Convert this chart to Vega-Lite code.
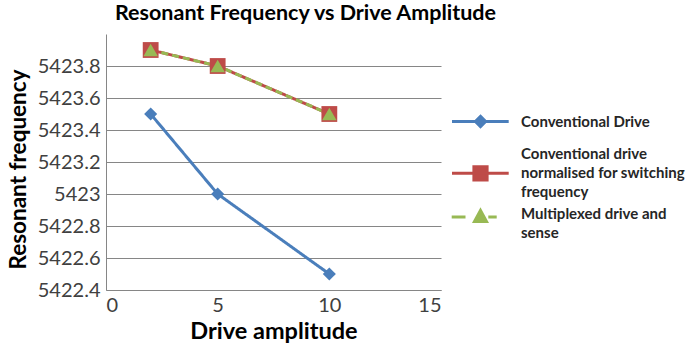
{
  "$schema": "https://vega.github.io/schema/vega-lite/v6.json",
  "autosize": "none",
  "width": 335,
  "height": 256,
  "padding": {"left": 106, "top": 34, "right": 245, "bottom": 58},
  "background": "white",
  "title": {
    "text": "Resonant Frequency vs Drive Amplitude",
    "font": "Lato",
    "fontSize": 21.5,
    "fontWeight": "bold",
    "color": "#000000",
    "anchor": "middle",
    "dx": 32,
    "offset": 10
  },
  "config": {
    "view": {"stroke": null},
    "font": "Lato"
  },
  "data": {
    "values": [
      {"series": "Conventional Drive", "x": 2, "y": 5423.5},
      {"series": "Conventional Drive", "x": 5, "y": 5423.0},
      {"series": "Conventional Drive", "x": 10, "y": 5422.5},
      {"series": "Conventional drive normalised for switching frequency", "x": 2, "y": 5423.9},
      {"series": "Conventional drive normalised for switching frequency", "x": 5, "y": 5423.8},
      {"series": "Conventional drive normalised for switching frequency", "x": 10, "y": 5423.5},
      {"series": "Multiplexed drive and sense", "x": 2, "y": 5423.9},
      {"series": "Multiplexed drive and sense", "x": 5, "y": 5423.8},
      {"series": "Multiplexed drive and sense", "x": 10, "y": 5423.5}
    ]
  },
  "encoding": {
    "x": {
      "field": "x", "type": "quantitative",
      "scale": {"domain": [0, 15], "nice": false, "zero": false},
      "axis": {
        "title": "Drive amplitude", "values": [0, 5, 10, 15], "grid": false,
        "ticks": false, "domainColor": "#868686", "domainWidth": 1,
        "labelFont": "Lato", "labelFontSize": 20, "labelColor": "#404040", "labelPadding": 5,
        "titleFont": "Lato", "titleFontSize": 23.5, "titleFontWeight": "bold", "titleColor": "#000000", "titlePadding": 4
      }
    },
    "y": {
      "field": "y", "type": "quantitative",
      "scale": {"domain": [5422.4, 5424], "nice": false, "zero": false},
      "axis": {
        "title": "Resonant frequency",
        "values": [5422.4, 5422.6, 5422.8, 5423, 5423.2, 5423.4, 5423.6, 5423.8],
        "labelExpr": "format(datum.value, '.1f') == '5423.0' ? '5423' : format(datum.value, '.1f')",
        "grid": true, "gridColor": "#868686", "gridWidth": 1,
        "ticks": false, "domainColor": "#868686", "domainWidth": 1,
        "labelFont": "Lato", "labelFontSize": 20, "labelColor": "#404040", "labelPadding": 6,
        "titleFont": "Lato", "titleFontSize": 22.5, "titleFontWeight": "bold", "titleColor": "#000000", "titlePadding": 7,
        "titleY": 135
      }
    },
    "color": {
      "field": "series", "type": "nominal",
      "scale": {
        "domain": ["Conventional Drive", "Conventional drive normalised for switching frequency", "Multiplexed drive and sense"],
        "range": ["#4a7ebb", "#be4b48", "#98b954"]
      },
      "legend": {
        "title": null,
        "orient": "none",
        "legendX": 343,
        "legendY": 80,
        "symbolSize": 144,
        "symbolOffset": 24,
        "symbolStrokeWidth": 3,
        "labelOffset": 33,
        "labelFont": "Lato",
        "labelFontSize": 15,
        "labelFontWeight": "bold",
        "labelColor": "#262626",
        "labelLimit": 300,
        "rowPadding": 4,
        "labelExpr": "datum.label == 'Conventional drive normalised for switching frequency' ? ['Conventional drive', 'normalised for switching', 'frequency'] : datum.label == 'Multiplexed drive and sense' ? ['Multiplexed drive and', 'sense'] : datum.label",
        "encode": {
          "labels": {
            "update": {"lineHeight": {"value": 19}}
          },
          "symbols": {
            "update": {
              "shape": {"signal": "datum.value == 'Conventional Drive' ? 'M-4.75,0L4.7,0M0,-0.85L0.85,0L0,0.85L-0.85,0ZM0,2.3' : datum.value == 'Multiplexed drive and sense' ? 'M-4.8,0.6L-2.5,0.6M1.3,0.6L2.7,0.6M0,-0.5L1,1.35L-1,1.35Z' : 'M-4.75,3.3L4.7,3.3M-1.1,2.2L1.1,2.2L1.1,4.4L-1.1,4.4Z'"},
              "stroke": {"signal": "scale('color', datum.value)"},
              "fill": {"signal": "scale('color', datum.value)"},
              "strokeWidth": {"value": 3},
              "opacity": {"value": 1}
            }
          }
        }
      }
    }
  },
  "layer": [
    {
      "mark": {"type": "line", "strokeWidth": 3},
      "encoding": {
        "strokeDash": {
          "field": "series", "type": "nominal",
          "scale": {
            "domain": ["Multiplexed drive and sense", "Conventional Drive", "Conventional drive normalised for switching frequency"],
            "range": [[7, 4], [1, 0], [1, 0]]
          },
          "legend": null
        }
      }
    },
    {
      "mark": {"type": "point", "filled": true, "opacity": 1},
      "encoding": {
        "shape": {
          "field": "series", "type": "nominal",
          "scale": {
            "domain": ["Multiplexed drive and sense", "Conventional Drive", "Conventional drive normalised for switching frequency"],
            "range": ["triangle-up", "diamond", "square"]
          },
          "legend": null
        },
        "size": {
          "field": "series", "type": "nominal",
          "scale": {
            "domain": ["Conventional drive normalised for switching frequency", "Multiplexed drive and sense", "Conventional Drive"],
            "range": [250, 170, 150]
          },
          "legend": null
        }
      }
    }
  ]
}
